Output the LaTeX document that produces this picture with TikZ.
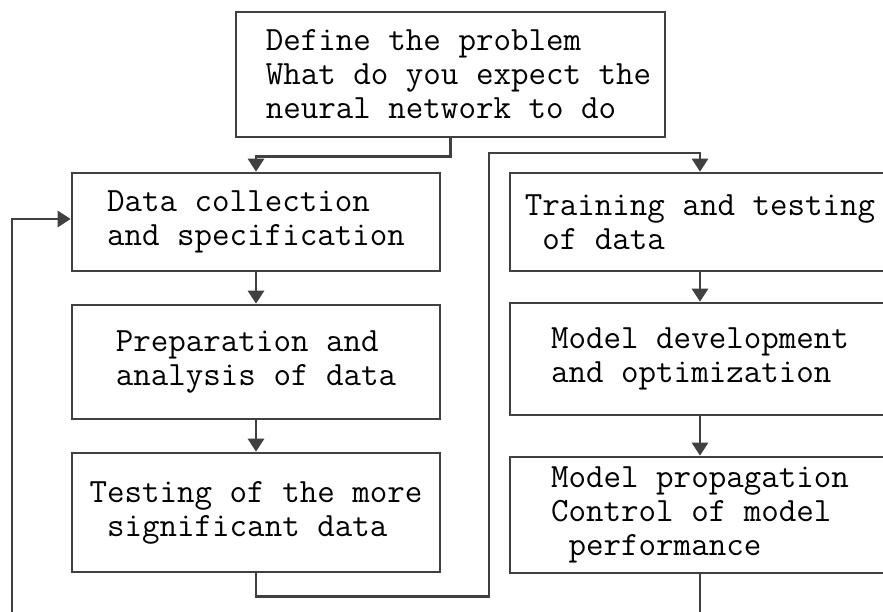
\documentclass[tikz,border=0pt]{standalone}
\usepackage{fontspec}
\usetikzlibrary{arrows.meta}
\definecolor{linecol}{RGB}{64,64,64}
\newcommand\pad{\hspace*{16pt}}

\begin{document}
\begin{tikzpicture}[
  x=1pt, y=-1pt,
  >={Triangle[width=16pt,length=13pt]},
  box/.style={draw=linecol, line width=2.6pt, align=left, inner sep=0pt,
              font=\ttfamily\fontsize{34}{34}\selectfont},
  e/.style={->, draw=linecol, line width=2.6pt},
  l/.style={draw=linecol, line width=2.6pt},
]
\path[use as bounding box, fill=white] (0,0) rectangle (883,612);
\clip (0,0) rectangle (883,612);

\node[box, minimum width=429pt, minimum height=125pt] (p) at (450.5,74.5)
  {\pad Define the problem\\\pad What do you expect the\\\pad neural network to do};

\node[box, minimum width=368pt, minimum height=98pt]  (c1) at (256,222)
  {Data collection\\and specification};
\node[box, minimum width=368pt, minimum height=114pt] (c2) at (256,362)
  {Preparation and\\analysis of data};
\node[box, minimum width=368pt, minimum height=119pt] (c3) at (256,512.5)
  {Testing of the more\\~significant data};

\node[box, minimum width=380pt, minimum height=98pt]  (m1) at (700,222)
  {Training and testing\\~of data};
\node[box, minimum width=380pt, minimum height=112pt] (m2) at (700,359)
  {Model development\\and optimization};
\node[box, minimum width=380pt, minimum height=116pt] (m3) at (700,515)
  {Model propagation\\Control of model\\~performance};

\coordinate (jog)  at (489,153);
\coordinate (out)  at (700,630);
\coordinate (back) at (12,630);

\draw[e] (p.south) -- ++(0,18) -| (c1.north);
\draw[e] (c1) -- (c2);
\draw[e] (c2) -- (c3);
\draw[e] (c3.south) -- ++(0,23) -| (jog) -| (m1.north);
\draw[e] (m1) -- (m2);
\draw[e] (m2) -- (m3);
\draw[l] (m3.south) -- (out);
\draw[e] (back) |- ([yshift=3pt]c1.west);
\end{tikzpicture}
\end{document}
